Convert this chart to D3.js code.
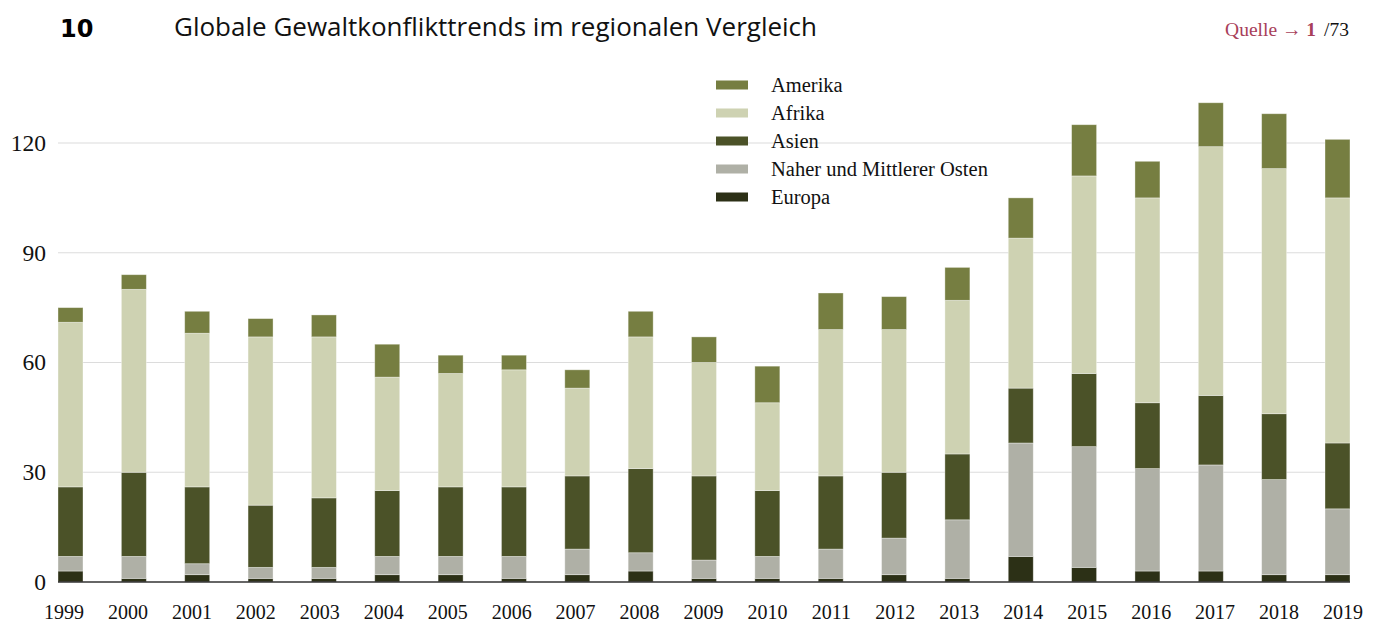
<!DOCTYPE html>
<html>
<head>
<meta charset="utf-8">
<script src="https://cdn.jsdelivr.net/npm/d3@7"></script>
<style>
  body { margin: 0; background: #fff; }
  svg { display: block; }
  .serif { font-family: "Liberation Serif", "DejaVu Serif", serif; }
</style>
</head>
<body>
<svg id="chart" width="1380" height="624"></svg>
<script>
const years = d3.range(1999, 2020).map(String);

// values per region
const europa  = [3, 1, 2, 1, 1, 2, 2, 1, 2, 3, 1, 1, 1, 2, 1, 7, 4, 3, 3, 2, 2];
const naherOsten = [4, 6, 3, 3, 3, 5, 5, 6, 7, 5, 5, 6, 8, 10, 16, 31, 33, 28, 29, 26, 18];
const asien   = [19, 23, 21, 17, 19, 18, 19, 19, 20, 23, 23, 18, 20, 18, 18, 15, 20, 18, 19, 18, 18];
const afrika  = [45, 50, 42, 46, 44, 31, 31, 32, 24, 36, 31, 24, 40, 39, 42, 41, 54, 56, 68, 67, 67];
const amerika = [4, 4, 6, 5, 6, 9, 5, 4, 5, 7, 7, 10, 10, 9, 9, 11, 14, 10, 12, 15, 16];

const yTicks = [0, 30, 60, 90, 120];

// stacking order bottom -> top
const keys = ['Europa', 'Naher und Mittlerer Osten', 'Asien', 'Afrika', 'Amerika'];
const colors = {
  'Europa': '#2c3016',
  'Naher und Mittlerer Osten': '#afb0a6',
  'Asien': '#4b5228',
  'Afrika': '#ced2b2',
  'Amerika': '#767e41'
};
const legendOrder = ['Amerika', 'Afrika', 'Asien', 'Naher und Mittlerer Osten', 'Europa'];

const rows = years.map((yr, i) => ({
  year: yr,
  'Europa': europa[i],
  'Naher und Mittlerer Osten': naherOsten[i],
  'Asien': asien[i],
  'Afrika': afrika[i],
  'Amerika': amerika[i]
}));

const svg = d3.select('#chart');

const x = d3.scalePoint().domain(years).range([70.5, 1337.5]);
const xLabel = d3.scalePoint().domain(years).range([64, 1343]);
const y = d3.scaleLinear().domain([0, 120]).range([582, 143]);
const barW = 25;

// gridlines
svg.append('g')
  .selectAll('line')
  .data(yTicks.filter(d => d > 0))
  .join('line')
  .attr('x1', x(years[0]) - barW / 2)
  .attr('x2', x(years[years.length - 1]) - barW / 2)
  .attr('y1', d => y(d))
  .attr('y2', d => y(d))
  .attr('stroke', '#dcdcdc')
  .attr('stroke-width', 1.2);

// y labels
svg.append('g')
  .attr('class', 'serif')
  .selectAll('text')
  .data(yTicks)
  .join('text')
  .attr('x', 46)
  .attr('y', d => y(d))
  .attr('dy', '0.34em')
  .attr('text-anchor', 'end')
  .attr('font-size', 23.5)
  .attr('fill', '#111')
  .text(d => d);

// stacked bars
const series = d3.stack().keys(keys)(rows);

svg.append('g')
  .selectAll('g')
  .data(series)
  .join('g')
  .attr('fill', d => colors[d.key])
  .selectAll('rect')
  .data(d => d)
  .join('rect')
  .attr('x', d => x(d.data.year) - barW / 2)
  .attr('width', barW)
  .attr('y', d => y(d[1]))
  .attr('height', d => y(d[0]) - y(d[1]))
  .attr('stroke', 'rgba(255,255,255,0.45)')
  .attr('stroke-width', 0.8);

// baseline
svg.append('line')
  .attr('x1', x(years[0]) - barW / 2)
  .attr('x2', x(years[years.length - 1]) + barW / 2)
  .attr('y1', y(0))
  .attr('y2', y(0))
  .attr('stroke', '#333')
  .attr('stroke-width', 1.5);

// year labels
svg.append('g')
  .attr('class', 'serif')
  .selectAll('text')
  .data(years)
  .join('text')
  .attr('x', d => xLabel(d))
  .attr('y', 619)
  .attr('text-anchor', 'middle')
  .attr('font-size', 20)
  .attr('fill', '#111')
  .text(d => d);

// legend
const legend = svg.append('g').attr('class', 'serif');
const lg = legend.selectAll('g')
  .data(legendOrder)
  .join('g')
  .attr('transform', (d, i) => `translate(716, ${85 + i * 28})`);
lg.append('rect')
  .attr('x', 0)
  .attr('y', -4.5)
  .attr('width', 32)
  .attr('height', 9)
  .attr('fill', d => colors[d]);
lg.append('text')
  .attr('x', 55)
  .attr('y', 0)
  .attr('dy', '0.33em')
  .attr('font-size', 20.5)
  .attr('fill', '#111')
  .text(d => d);

// header
svg.append('text')
  .attr('x', 60)
  .attr('y', 37)
  .attr('font-family', '"DejaVu Sans", sans-serif')
  .attr('font-weight', 900)
  .attr('font-size', 24)
  .attr('fill', '#000')
  .text('10');

svg.append('text')
  .attr('x', 174)
  .attr('y', 36)
  .attr('font-family', '"Open Sans", "Liberation Sans", sans-serif')
  .attr('font-size', 26)
  .attr('fill', '#111')
  .text('Globale Gewaltkonflikttrends im regionalen Vergleich');

const src = svg.append('text')
  .attr('class', 'serif')
  .attr('x', 1349)
  .attr('y', 36)
  .attr('text-anchor', 'end')
  .attr('font-size', 19.5);
src.append('tspan').attr('fill', '#a8405a').text('Quelle \u2192 ');
src.append('tspan').attr('fill', '#a8405a').attr('font-weight', 'bold').text('1');
src.append('tspan').attr('fill', '#111').attr('dx', 8).text('/73');
</script>
</body>
</html>
